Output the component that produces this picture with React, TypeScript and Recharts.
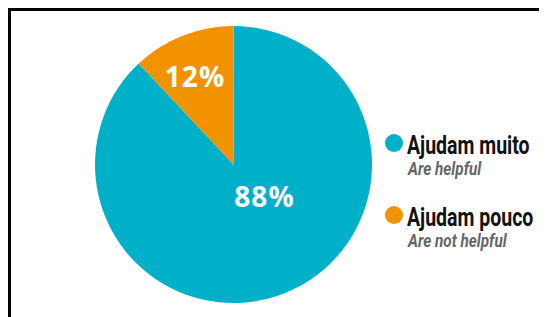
import { PieChart, Pie, Cell, Legend } from 'recharts';

const categories = ['Ajudam muito', 'Ajudam pouco'];
const subtitles = ['Are helpful', 'Are not helpful'];
const values = [88, 12];
const colors = ['#00afc8', '#f39200'];

const data = categories.map((name, i) => ({ name, value: values[i] }));

const labelOffsets = [
  { dx: 31, dy: 31 },
  { dx: -38.5, dy: -88.5 },
];

function renderLabel(props: any) {
  const { cx, cy, index, value } = props;
  const off = labelOffsets[index];
  return (
    <text
      x={cx + off.dx}
      y={cy + off.dy}
      fill="#ffffff"
      textAnchor="middle"
      dominantBaseline="central"
      fontFamily="'Open Sans', sans-serif"
      fontWeight={700}
      fontSize={28}
      letterSpacing={1}
    >
      {value}%
    </text>
  );
}

// Roboto squeezed horizontally to mimic the condensed face of the original
const squeeze = (s: number): React.CSSProperties => ({
  position: 'absolute',
  whiteSpace: 'nowrap',
  transform: `scaleX(${s})`,
  transformOrigin: 'left center',
});

function LegendContent({ payload }: any) {
  const items = payload || [];
  return (
    <div style={{ position: 'relative', width: 165, height: 130, fontFamily: 'Roboto, sans-serif' }}>
      {items.map((entry: any, i: number) => {
        const y0 = i * 72;
        return (
          <div key={entry.value}>
            <span
              style={{
                position: 'absolute',
                left: 3,
                top: y0 + 5,
                width: 18,
                height: 18,
                borderRadius: 9,
                background: entry.color,
              }}
            />
            <span
              style={{
                ...squeeze(0.78),
                left: 25,
                top: y0 + 4,
                fontSize: 25,
                lineHeight: '25px',
                fontWeight: 700,
                color: '#111',
              }}
            >
              {entry.value}
            </span>
            <span
              style={{
                ...squeeze(0.85),
                left: 26,
                top: y0 + 31,
                fontSize: 18,
                lineHeight: '18px',
                fontWeight: 700,
                fontStyle: 'italic',
                color: '#666666',
              }}
            >
              {subtitles[i]}
            </span>
          </div>
        );
      })}
    </div>
  );
}

export default function App() {
  return (
    <div
      style={{
        position: 'relative',
        width: 536,
        height: 306,
        borderTop: '3px solid #000',
        borderLeft: '3px solid #000',
        background: '#fff',
      }}
    >
      <PieChart width={536} height={306} margin={{ top: 0, right: 0, bottom: 0, left: 0 }}>
        <Pie
          data={data}
          dataKey="value"
          nameKey="name"
          cx={222.5}
          cy={153.5}
          outerRadius={138.5}
          startAngle={90}
          endAngle={-270}
          stroke="none"
          label={renderLabel}
          labelLine={false}
          isAnimationActive={false}
        >
          {data.map((d, i) => (
            <Cell key={d.name} fill={colors[i]} />
          ))}
        </Pie>
        <Legend
          layout="vertical"
          content={<LegendContent />}
          wrapperStyle={{ position: 'absolute', left: 371, top: 118, width: 165 }}
        />
      </PieChart>
    </div>
  );
}
